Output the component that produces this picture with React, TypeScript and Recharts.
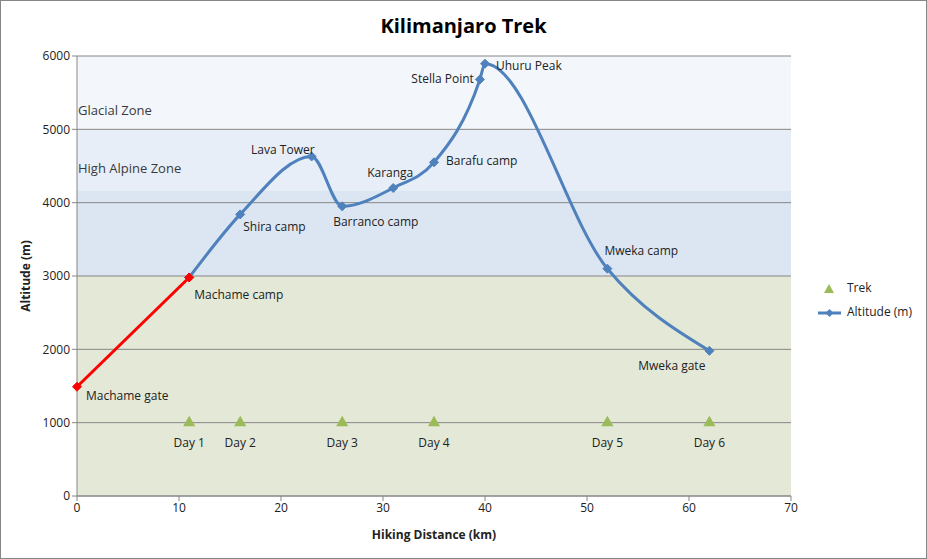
import {
  ComposedChart,
  Line,
  Scatter,
  XAxis,
  YAxis,
  ReferenceArea,
  ReferenceLine,
  LabelList,
} from "recharts";

// waypoints along the Machame route
const places = [
  "Machame gate",
  "Machame camp",
  "Shira camp",
  "Lava Tower",
  "Barranco camp",
  "Karanga",
  "Barafu camp",
  "Stella Point",
  "Uhuru Peak",
  "Mweka camp",
  "Mweka gate",
];
const distance = [0, 11, 16, 23, 26, 31, 35, 39.5, 40, 52, 62];
const altitude = [1490, 2980, 3840, 4630, 3950, 4200, 4550, 5680, 5895, 3100, 1980];

const dayNames = ["Day 1", "Day 2", "Day 3", "Day 4", "Day 5", "Day 6"];
const dayDistance = [11, 16, 26, 35, 52, 62];
const dayMarker = [1000, 1000, 1000, 1000, 1000, 1000];

const zones = [
  { name: "", from: 0, to: 3000 },
  { name: "", from: 3000, to: 4170 },
  { name: "High Alpine Zone", from: 4170, to: 5000 },
  { name: "Glacial Zone", from: 5000, to: 6000 },
];

const yTicks = [0, 1000, 2000, 3000, 4000, 5000, 6000];
const xTicks = [0, 10, 20, 30, 40, 50, 60, 70];

const points = places.map((name, i) => ({ name, km: distance[i], alt: altitude[i] }));
const firstLeg = points.slice(0, 2);
const restOfTrek = points.slice(1);
const days = dayNames.map((name, i) => ({ name, km: dayDistance[i], alt: dayMarker[i] }));

const BLUE = "#4F81BD";
const GREEN = "#9BBB59";
const FONT = "'Open Sans', 'Noto Sans', sans-serif";
const ZONE_FILL = ["#E4E8D7", "#DCE6F2", "#E8EEF8", "#F3F6FB"];

// where each waypoint name sits relative to its marker
const labelSpot: Record<string, [number, number, string]> = {
  "Machame gate": [9, 10, "start"],
  "Machame camp": [5, 18, "start"],
  "Shira camp": [3, 13, "start"],
  "Lava Tower": [3, -6, "end"],
  "Barranco camp": [-9, 16, "start"],
  Karanga: [-3, -14, "middle"],
  "Barafu camp": [12, -1, "start"],
  "Stella Point": [-6, 0, "end"],
  "Uhuru Peak": [11, 3, "start"],
  "Mweka camp": [-3, -17, "start"],
  "Mweka gate": [-4, 16, "end"],
};

const Diamond = ({ cx, cy, color }: any) => {
  if (cx == null || cy == null) return null;
  const r = 4.5;
  return (
    <polygon
      points={`${cx},${cy - r} ${cx + r},${cy} ${cx},${cy + r} ${cx - r},${cy}`}
      fill={color}
      stroke={color}
    />
  );
};

const PlaceLabel = (props: any) => {
  const { x, y, value } = props;
  const spot = labelSpot[value];
  if (!spot) return null;
  return (
    <text
      x={x + spot[0]}
      y={y + spot[1]}
      textAnchor={spot[2] as any}
      dominantBaseline="middle"
      fontSize={12}
      fontFamily={FONT}
      fill="#222"
    >
      {value}
    </text>
  );
};

const DayLabel = (props: any) => {
  const { x, y, width, height, value } = props;
  const cx = x + (width || 0) / 2;
  const cy = y + (height || 0) / 2;
  return (
    <text x={cx} y={cy + 21} textAnchor="middle" dominantBaseline="middle" fontSize={12} fontFamily={FONT} fill="#222">
      {value}
    </text>
  );
};

const ZoneLabel = ({ viewBox, value, lift }: any) => {
  if (!viewBox || !value) return null;
  return (
    <text
      x={viewBox.x + 1}
      y={viewBox.y + viewBox.height - lift}
      dominantBaseline="middle"
      fontSize={13}
      fontFamily={FONT}
      fill="#3a3a3a"
    >
      {value}
    </text>
  );
};

const LegendBox = () => (
  <svg width={110} height={50} style={{ position: "absolute", left: 815, top: 280 }}>
    <polygon points="14,4 19,13 9,13" fill={GREEN} />
    <text x={32} y={9} dominantBaseline="middle" fontSize={12} fontFamily={FONT} fill="#222">
      Trek
    </text>
    <line x1={3} y1={33} x2={26} y2={33} stroke={BLUE} strokeWidth={3} />
    <polygon points="14.5,29 18.5,33 14.5,37 10.5,33" fill={BLUE} />
    <text x={32} y={33} dominantBaseline="middle" fontSize={12} fontFamily={FONT} fill="#222">
      Altitude (m)
    </text>
  </svg>
);

export default function App() {
  return (
    <div style={{ position: "absolute", left: 0, top: 0, width: 927, height: 559, background: "#fff" }}>
      <div
        style={{
          position: "absolute",
          top: 12,
          width: 927,
          textAlign: "center",
          fontFamily: FONT,
          fontWeight: 700,
          fontSize: 20,
          color: "#000",
        }}
      >
        Kilimanjaro Trek
      </div>
      <ComposedChart width={927} height={559} margin={{ top: 56, right: 136, bottom: 13, left: 0 }}>
        {zones.map((z, i) => (
          <ReferenceArea
            key={i}
            y1={z.from}
            y2={z.to}
            x1={0}
            x2={70}
            fill={ZONE_FILL[i]}
            fillOpacity={1}
            stroke="none"
            label={<ZoneLabel value={z.name} lift={z.name === "Glacial Zone" ? 18 : 21} />}
          />
        ))}
        {yTicks.map((t) => (
          <ReferenceLine key={t} y={t} stroke="#868686" strokeWidth={1} />
        ))}
        <XAxis
          type="number"
          dataKey="km"
          domain={[0, 70]}
          ticks={xTicks}
          height={50}
          stroke="#868686"
          tickSize={5}
          tick={{ fill: "#222", fontSize: 12, fontFamily: FONT }}
          label={{
            value: "Hiking Distance (km)",
            position: "insideBottom",
            offset: 7,
            fontSize: 12,
            fontWeight: 700,
            fontFamily: FONT,
            fill: "#222",
          }}
        />
        <YAxis
          type="number"
          domain={[0, 6000]}
          ticks={yTicks}
          width={77}
          stroke="#868686"
          tickSize={5}
          tick={{ fill: "#222", fontSize: 12, fontFamily: FONT }}
          label={{
            value: "Altitude (m)",
            angle: -90,
            position: "insideLeft",
            offset: 26,
            fontSize: 12,
            fontWeight: 700,
            fontFamily: FONT,
            fill: "#222",
            style: { textAnchor: "middle" },
          }}
        />
        <Line
          data={restOfTrek}
          dataKey="alt"
          type="monotone"
          stroke={BLUE}
          strokeWidth={3}
          dot={<Diamond color={BLUE} />}
          isAnimationActive={false}
        >
          <LabelList dataKey="name" content={<PlaceLabel />} />
        </Line>
        <Line
          data={firstLeg}
          dataKey="alt"
          type="linear"
          stroke="#FF0000"
          strokeWidth={3}
          dot={<Diamond color="#FF0000" />}
          isAnimationActive={false}
        >
          <LabelList dataKey="name" content={(p: any) => (p.value === "Machame gate" ? <PlaceLabel {...p} /> : null)} />
        </Line>
        <Scatter data={days} dataKey="alt" fill={GREEN} shape="triangle" isAnimationActive={false}>
          <LabelList dataKey="name" content={<DayLabel />} />
        </Scatter>
      </ComposedChart>
      <LegendBox />
      <div
        style={{
          position: "absolute",
          left: 0,
          top: 0,
          width: 925,
          height: 557,
          border: "1px solid #868686",
          pointerEvents: "none",
        }}
      />
    </div>
  );
}
